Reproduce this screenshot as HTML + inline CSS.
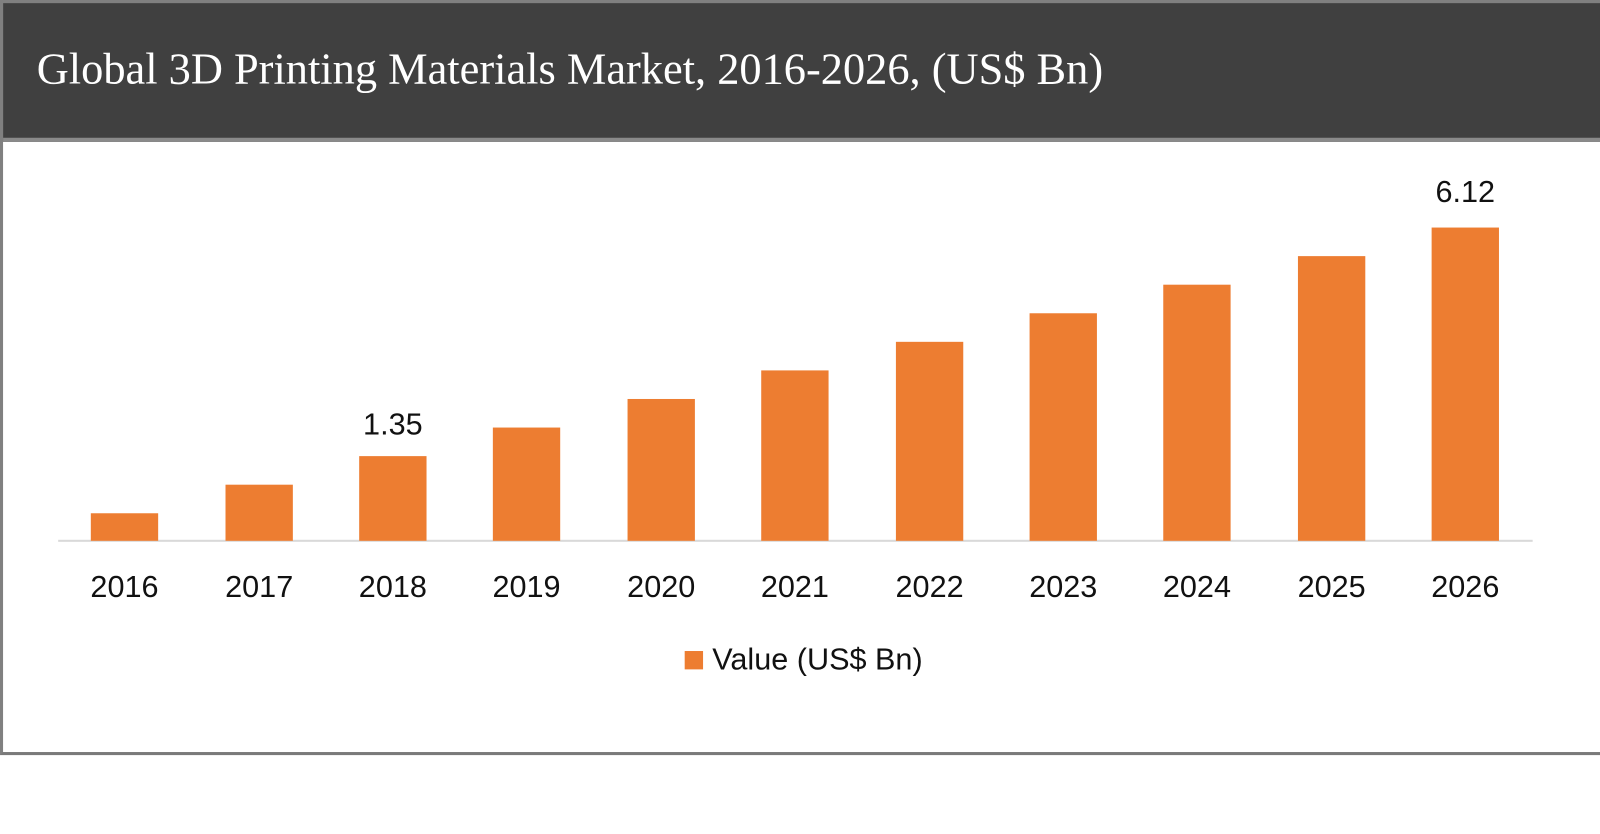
<!DOCTYPE html>
<html><head><meta charset="utf-8"><style>
html,body{margin:0;padding:0;background:#fff;width:1600px;height:834px;overflow:hidden;position:relative;font-family:"Liberation Sans",sans-serif}
#w{position:absolute;left:0;top:0;width:1600px;height:834px;transform:scale(1.0204);transform-origin:0 0}
.frame{position:absolute;left:0;top:0;width:1600px;height:734px;border-top:3px solid #808080;border-left:3px solid #808080;border-bottom:3px solid #7a7a7a;box-sizing:content-box}
.hdr{position:absolute;left:3px;top:3px;width:1597px;height:132px;background:#404040;border-bottom:4px solid #8a8a8a}
.title{position:absolute;left:36px;top:43px;font-family:"Liberation Serif",serif;font-size:43.5px;color:#fff;white-space:nowrap;line-height:50px}
.bar{position:absolute;width:66px;background:#ed7d31}
.axis{position:absolute;left:57px;top:529px;width:1445px;height:2px;background:#d9d9d9}
.lab{position:absolute;top:558px;width:120px;text-align:center;font-size:30px;color:#111;line-height:36px}
.dl{position:absolute;width:120px;text-align:center;font-size:30px;color:#111;line-height:36px}
</style></head><body><div id="w">
<div class="frame"></div>
<div class="hdr"></div>
<div class="title">Global 3D Printing Materials Market, 2016-2026, (US$ Bn)</div>
<div class="axis"></div>
<div class="bar" style="left:89px;top:503px;height:27px"></div>
<div class="bar" style="left:221px;top:475px;height:55px"></div>
<div class="bar" style="left:352px;top:447px;height:83px"></div>
<div class="bar" style="left:483px;top:419px;height:111px"></div>
<div class="bar" style="left:615px;top:391px;height:139px"></div>
<div class="bar" style="left:746px;top:363px;height:167px"></div>
<div class="bar" style="left:878px;top:335px;height:195px"></div>
<div class="bar" style="left:1009px;top:307px;height:223px"></div>
<div class="bar" style="left:1140px;top:279px;height:251px"></div>
<div class="bar" style="left:1272px;top:251px;height:279px"></div>
<div class="bar" style="left:1403px;top:223px;height:307px"></div>
<div class="dl" style="left:325px;top:399px">1.35</div>
<div class="dl" style="left:1376px;top:171px">6.12</div>
<div class="lab" style="left:62px">2016</div>
<div class="lab" style="left:194px">2017</div>
<div class="lab" style="left:325px">2018</div>
<div class="lab" style="left:456px">2019</div>
<div class="lab" style="left:588px">2020</div>
<div class="lab" style="left:719px">2021</div>
<div class="lab" style="left:851px">2022</div>
<div class="lab" style="left:982px">2023</div>
<div class="lab" style="left:1113px">2024</div>
<div class="lab" style="left:1245px">2025</div>
<div class="lab" style="left:1376px">2026</div>
<div style="position:absolute;left:671px;top:638px;width:18px;height:18px;background:#ed7d31"></div>
<div style="position:absolute;left:698px;top:629px;font-size:30px;line-height:36px;color:#111;white-space:nowrap">Value (US$ Bn)</div>
</div></body></html>
